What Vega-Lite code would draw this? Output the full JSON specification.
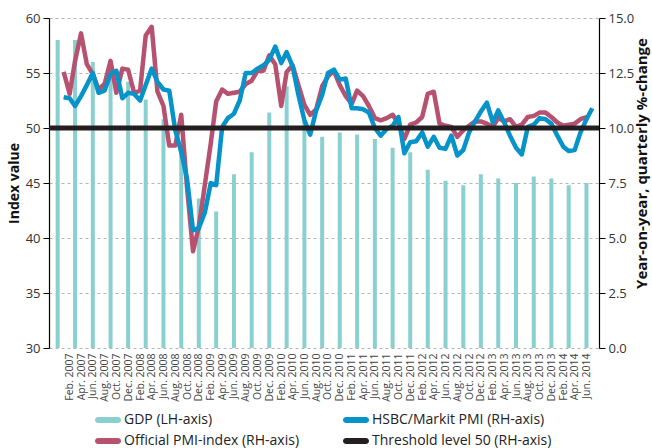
{
  "$schema": "https://vega.github.io/schema/vega-lite/v6.json",
  "width": 550,
  "height": 330,
  "autosize": {"type": "none"},
  "padding": {"left": 49, "top": 18, "right": 53, "bottom": 100},
  "title": {"text": "2007-2014", "fontSize": 14, "fontWeight": "bold", "offset": 14, "baseline": "alphabetic", "anchor": "middle", "color": "#222222"},
  "config": {
    "view": {"stroke": null},
    "font": "Open Sans",
    "axisX": {"labelOverlap": false, "tickCount": 100, "labelFlush": false, "labelBound": false, "labelAngle": 270, "labelFontSize": 10.5, "labelColor": "#444444", "labelPadding": 5, "ticks": false, "domain": false, "grid": false}
  },
  "datasets": {
    "gdp": [
      {"date": "2006-12-01", "gdp": 14.0}, {"date": "2007-03-01", "gdp": 14.0}, {"date": "2007-06-01", "gdp": 13.0}, {"date": "2007-09-01", "gdp": 12.4},
      {"date": "2007-12-01", "gdp": 12.1}, {"date": "2008-03-01", "gdp": 11.3}, {"date": "2008-06-01", "gdp": 10.4}, {"date": "2008-09-01", "gdp": 9.3},
      {"date": "2008-12-01", "gdp": 6.8}, {"date": "2009-03-01", "gdp": 6.2}, {"date": "2009-06-01", "gdp": 7.9}, {"date": "2009-09-01", "gdp": 8.9},
      {"date": "2009-12-01", "gdp": 10.7}, {"date": "2010-03-01", "gdp": 11.9}, {"date": "2010-06-01", "gdp": 10.3}, {"date": "2010-09-01", "gdp": 9.6},
      {"date": "2010-12-01", "gdp": 9.8}, {"date": "2011-03-01", "gdp": 9.7}, {"date": "2011-06-01", "gdp": 9.5}, {"date": "2011-09-01", "gdp": 9.1},
      {"date": "2011-12-01", "gdp": 8.9}, {"date": "2012-03-01", "gdp": 8.1}, {"date": "2012-06-01", "gdp": 7.6}, {"date": "2012-09-01", "gdp": 7.4},
      {"date": "2012-12-01", "gdp": 7.9}, {"date": "2013-03-01", "gdp": 7.7}, {"date": "2013-06-01", "gdp": 7.5}, {"date": "2013-09-01", "gdp": 7.8},
      {"date": "2013-12-01", "gdp": 7.7}, {"date": "2014-03-01", "gdp": 7.4}, {"date": "2014-06-01", "gdp": 7.5}
    ],
    "pmi": [
      {"date": "2007-01-01", "official": 55.1, "hsbc": 52.8}, {"date": "2007-02-01", "official": 53.1, "hsbc": 52.7}, {"date": "2007-03-01", "official": 56.1, "hsbc": 52.0},
      {"date": "2007-04-01", "official": 58.6, "hsbc": 52.9}, {"date": "2007-05-01", "official": 55.8, "hsbc": 53.9}, {"date": "2007-06-01", "official": 54.9, "hsbc": 55.0},
      {"date": "2007-07-01", "official": 53.5, "hsbc": 53.2}, {"date": "2007-08-01", "official": 54.0, "hsbc": 53.4}, {"date": "2007-09-01", "official": 56.1, "hsbc": 54.9},
      {"date": "2007-10-01", "official": 53.2, "hsbc": 55.2}, {"date": "2007-11-01", "official": 55.4, "hsbc": 52.7}, {"date": "2007-12-01", "official": 55.3, "hsbc": 53.2},
      {"date": "2008-01-01", "official": 53.2, "hsbc": 53.1}, {"date": "2008-02-01", "official": 53.4, "hsbc": 52.5}, {"date": "2008-03-01", "official": 58.4, "hsbc": 53.9},
      {"date": "2008-04-01", "official": 59.2, "hsbc": 55.4}, {"date": "2008-05-01", "official": 53.3, "hsbc": 54.2}, {"date": "2008-06-01", "official": 52.0, "hsbc": 53.5},
      {"date": "2008-07-01", "official": 48.4, "hsbc": 53.4}, {"date": "2008-08-01", "official": 48.4, "hsbc": 49.8}, {"date": "2008-09-01", "official": 51.2, "hsbc": 47.8},
      {"date": "2008-10-01", "official": 44.6, "hsbc": 45.4}, {"date": "2008-11-01", "official": 38.8, "hsbc": 40.7}, {"date": "2008-12-01", "official": 41.0, "hsbc": 40.9},
      {"date": "2009-01-01", "official": 44.8, "hsbc": 42.3}, {"date": "2009-02-01", "official": 48.6, "hsbc": 45.0}, {"date": "2009-03-01", "official": 52.4, "hsbc": 44.8},
      {"date": "2009-04-01", "official": 53.5, "hsbc": 50.1}, {"date": "2009-05-01", "official": 53.1, "hsbc": 50.9}, {"date": "2009-06-01", "official": 53.2, "hsbc": 51.3},
      {"date": "2009-07-01", "official": 53.3, "hsbc": 52.5}, {"date": "2009-08-01", "official": 54.0, "hsbc": 55.0}, {"date": "2009-09-01", "official": 54.3, "hsbc": 55.0},
      {"date": "2009-10-01", "official": 55.2, "hsbc": 55.4}, {"date": "2009-11-01", "official": 55.2, "hsbc": 55.7}, {"date": "2009-12-01", "official": 56.6, "hsbc": 56.2},
      {"date": "2010-01-01", "official": 55.8, "hsbc": 57.4}, {"date": "2010-02-01", "official": 52.0, "hsbc": 55.9}, {"date": "2010-03-01", "official": 55.1, "hsbc": 56.9},
      {"date": "2010-04-01", "official": 55.7, "hsbc": 55.6}, {"date": "2010-05-01", "official": 53.9, "hsbc": 53.0}, {"date": "2010-06-01", "official": 52.1, "hsbc": 50.7},
      {"date": "2010-07-01", "official": 51.2, "hsbc": 49.4}, {"date": "2010-08-01", "official": 51.7, "hsbc": 51.6}, {"date": "2010-09-01", "official": 53.8, "hsbc": 53.0},
      {"date": "2010-10-01", "official": 54.7, "hsbc": 55.0}, {"date": "2010-11-01", "official": 55.2, "hsbc": 55.3}, {"date": "2010-12-01", "official": 53.9, "hsbc": 54.4},
      {"date": "2011-01-01", "official": 52.9, "hsbc": 54.5}, {"date": "2011-02-01", "official": 52.2, "hsbc": 51.8}, {"date": "2011-03-01", "official": 53.4, "hsbc": 51.8},
      {"date": "2011-04-01", "official": 52.9, "hsbc": 51.7}, {"date": "2011-05-01", "official": 52.0, "hsbc": 51.4}, {"date": "2011-06-01", "official": 50.9, "hsbc": 50.0},
      {"date": "2011-07-01", "official": 50.7, "hsbc": 49.3}, {"date": "2011-08-01", "official": 50.9, "hsbc": 49.9}, {"date": "2011-09-01", "official": 51.2, "hsbc": 50.2},
      {"date": "2011-10-01", "official": 50.4, "hsbc": 51.0}, {"date": "2011-11-01", "official": 49.0, "hsbc": 47.7}, {"date": "2011-12-01", "official": 50.3, "hsbc": 48.7},
      {"date": "2012-01-01", "official": 50.5, "hsbc": 48.8}, {"date": "2012-02-01", "official": 51.0, "hsbc": 49.6}, {"date": "2012-03-01", "official": 53.1, "hsbc": 48.3},
      {"date": "2012-04-01", "official": 53.3, "hsbc": 49.2}, {"date": "2012-05-01", "official": 50.4, "hsbc": 48.2}, {"date": "2012-06-01", "official": 50.2, "hsbc": 48.1},
      {"date": "2012-07-01", "official": 50.1, "hsbc": 49.3}, {"date": "2012-08-01", "official": 49.2, "hsbc": 47.5}, {"date": "2012-09-01", "official": 49.8, "hsbc": 48.0},
      {"date": "2012-10-01", "official": 50.2, "hsbc": 49.6}, {"date": "2012-11-01", "official": 50.6, "hsbc": 50.6}, {"date": "2012-12-01", "official": 50.6, "hsbc": 51.5},
      {"date": "2013-01-01", "official": 50.4, "hsbc": 52.3}, {"date": "2013-02-01", "official": 50.1, "hsbc": 50.5}, {"date": "2013-03-01", "official": 50.9, "hsbc": 51.6},
      {"date": "2013-04-01", "official": 50.6, "hsbc": 50.5}, {"date": "2013-05-01", "official": 50.8, "hsbc": 49.3}, {"date": "2013-06-01", "official": 50.1, "hsbc": 48.2},
      {"date": "2013-07-01", "official": 50.3, "hsbc": 47.6}, {"date": "2013-08-01", "official": 51.0, "hsbc": 50.1}, {"date": "2013-09-01", "official": 51.1, "hsbc": 50.3},
      {"date": "2013-10-01", "official": 51.4, "hsbc": 50.9}, {"date": "2013-11-01", "official": 51.4, "hsbc": 50.8}, {"date": "2013-12-01", "official": 51.0, "hsbc": 50.4},
      {"date": "2014-01-01", "official": 50.5, "hsbc": 49.3}, {"date": "2014-02-01", "official": 50.2, "hsbc": 48.3}, {"date": "2014-03-01", "official": 50.3, "hsbc": 47.9},
      {"date": "2014-04-01", "official": 50.4, "hsbc": 48.0}, {"date": "2014-05-01", "official": 50.8, "hsbc": 49.6}, {"date": "2014-06-01", "official": 51.0, "hsbc": 50.8},
      {"date": "2014-07-01", "official": null, "hsbc": 51.8}
    ]
  },
  "layer": [
    {
      "data": {"name": "gdp"},
      "mark": {"type": "bar", "width": 4},
      "encoding": {
        "x": {
          "field": "date", "type": "temporal",
          "scale": {"type": "utc", "domain": [{"year": 2006, "month": 11, "date": 12, "utc": true}, {"year": 2014, "month": 7, "date": 10, "utc": true}]},
          "axis": {
            "title": null,
            "labelExpr": "utcFormat(datum.value, '%b. %Y')",
            "labelOverlap": false,
            "tickCount": 100,
            "values": [
              {"year": 2007, "month": 2, "date": 1, "utc": true}, {"year": 2007, "month": 4, "date": 1, "utc": true}, {"year": 2007, "month": 6, "date": 1, "utc": true},
              {"year": 2007, "month": 8, "date": 1, "utc": true}, {"year": 2007, "month": 10, "date": 1, "utc": true}, {"year": 2007, "month": 12, "date": 1, "utc": true},
              {"year": 2008, "month": 2, "date": 1, "utc": true}, {"year": 2008, "month": 4, "date": 1, "utc": true}, {"year": 2008, "month": 6, "date": 1, "utc": true},
              {"year": 2008, "month": 8, "date": 1, "utc": true}, {"year": 2008, "month": 10, "date": 1, "utc": true}, {"year": 2008, "month": 12, "date": 1, "utc": true},
              {"year": 2009, "month": 2, "date": 1, "utc": true}, {"year": 2009, "month": 4, "date": 1, "utc": true}, {"year": 2009, "month": 6, "date": 1, "utc": true},
              {"year": 2009, "month": 8, "date": 1, "utc": true}, {"year": 2009, "month": 10, "date": 1, "utc": true}, {"year": 2009, "month": 12, "date": 1, "utc": true},
              {"year": 2010, "month": 2, "date": 1, "utc": true}, {"year": 2010, "month": 4, "date": 1, "utc": true}, {"year": 2010, "month": 6, "date": 1, "utc": true},
              {"year": 2010, "month": 8, "date": 1, "utc": true}, {"year": 2010, "month": 10, "date": 1, "utc": true}, {"year": 2010, "month": 12, "date": 1, "utc": true},
              {"year": 2011, "month": 2, "date": 1, "utc": true}, {"year": 2011, "month": 4, "date": 1, "utc": true}, {"year": 2011, "month": 6, "date": 1, "utc": true},
              {"year": 2011, "month": 8, "date": 1, "utc": true}, {"year": 2011, "month": 10, "date": 1, "utc": true}, {"year": 2011, "month": 12, "date": 1, "utc": true},
              {"year": 2012, "month": 2, "date": 1, "utc": true}, {"year": 2012, "month": 4, "date": 1, "utc": true}, {"year": 2012, "month": 6, "date": 1, "utc": true},
              {"year": 2012, "month": 8, "date": 1, "utc": true}, {"year": 2012, "month": 10, "date": 1, "utc": true}, {"year": 2012, "month": 12, "date": 1, "utc": true},
              {"year": 2013, "month": 2, "date": 1, "utc": true}, {"year": 2013, "month": 4, "date": 1, "utc": true}, {"year": 2013, "month": 6, "date": 1, "utc": true},
              {"year": 2013, "month": 8, "date": 1, "utc": true}, {"year": 2013, "month": 10, "date": 1, "utc": true}, {"year": 2013, "month": 12, "date": 1, "utc": true},
              {"year": 2014, "month": 2, "date": 1, "utc": true}, {"year": 2014, "month": 4, "date": 1, "utc": true}, {"year": 2014, "month": 6, "date": 1, "utc": true}
            ]
          }
        },
        "y": {
          "field": "gdp", "type": "quantitative",
          "scale": {"domain": [0, 15], "nice": false, "zero": true},
          "axis": {
            "orient": "right", "values": [0, 2.5, 5, 7.5, 10, 12.5, 15], "format": ".1f", "grid": false,
            "domainColor": "#000000", "domainWidth": 1.2, "tickColor": "#000000", "tickSize": 6, "labelFontSize": 13, "labelColor": "#333333", "labelPadding": 3,
            "title": "Year-on-year, quarterly %-change", "titleFontSize": 15, "titleFontWeight": "bold", "titleColor": "#111111",
            "titleAngle": 270, "titleX": 42, "titleY": 145, "titleAlign": "center", "titleBaseline": "middle"
          }
        },
        "color": {
          "datum": "gdp",
          "scale": {"domain": ["gdp", "hsbc", "official", "threshold"], "range": ["#8bd0d1", "#0693c9", "#b65170", "#231f20"]},
          "legend": {
            "title": null, "orient": "none", "legendX": 49, "legendY": 392, "direction": "horizontal", "columns": 2,
            "columnPadding": 43, "rowPadding": 4, "labelFontSize": 14, "labelColor": "#222222", "labelOffset": 6, "symbolSize": 400,
            "labelLimit": 400,
            "labelExpr": "datum.value == 'gdp' ? 'GDP (LH-axis)' : datum.value == 'hsbc' ? 'HSBC/Markit PMI (RH-axis)' : datum.value == 'official' ? 'Official PMI-index (RH-axis)' : 'Threshold level 50 (RH-axis)'",
            "encode": {
              "symbols": {
                "update": {
                  "shape": {"value": "M-1,-0.3L1,-0.3A0.3,0.3,0,0,1,1,0.3L-1,0.3A0.3,0.3,0,0,1,-1,-0.3Z"},
                  "fill": {"scale": "color", "field": "value"},
                  "stroke": {"value": "transparent"},
                  "strokeWidth": {"value": 0},
                  "opacity": {"value": 1},
                  "size": {"value": 400}
                }
              }
            }
          }
        }
      }
    },
    {
      "layer": [
        {
          "data": {"name": "pmi"},
          "mark": {"type": "line", "strokeWidth": 4.5, "strokeJoin": "round"},
          "encoding": {
            "x": {"field": "date", "type": "temporal", "axis": {"title": null, "labelOverlap": false, "tickCount": 100, "labelExpr": "utcFormat(datum.value, '%b. %Y')"}},
            "y": {
              "field": "official", "type": "quantitative",
              "scale": {"domain": [30, 60], "nice": false, "zero": false},
              "axis": {
                "orient": "left", "values": [30, 35, 40, 45, 50, 55, 60], "grid": true, "gridDash": [3, 3], "gridColor": "#b5b5b5", "gridWidth": 1,
                "domainColor": "#000000", "domainWidth": 1.2, "tickColor": "#000000", "tickSize": 6, "labelFontSize": 13, "labelColor": "#333333", "labelPadding": 3,
                "title": "Index value", "titleFontSize": 14, "titleFontWeight": "bold", "titleColor": "#111111",
                "titleAngle": 270, "titleX": -35, "titleY": 165, "titleAlign": "center", "titleBaseline": "middle"
              }
            },
            "color": {"datum": "official"}
          }
        },
        {
          "data": {"name": "pmi"},
          "mark": {"type": "line", "strokeWidth": 4.5, "strokeJoin": "round"},
          "encoding": {
            "x": {"field": "date", "type": "temporal", "axis": {"title": null, "labelOverlap": false, "tickCount": 100, "labelExpr": "utcFormat(datum.value, '%b. %Y')"}},
            "y": {"field": "hsbc", "type": "quantitative", "axis": {"title": "Index value"}},
            "color": {"datum": "hsbc"}
          }
        },
        {
          "data": {"values": [{}]},
          "mark": {"type": "rule", "strokeWidth": 5},
          "encoding": {
            "y": {"datum": 50},
            "color": {"datum": "threshold"}
          }
        }
      ]
    }
  ],
  "resolve": {"scale": {"y": "independent"}}
}
